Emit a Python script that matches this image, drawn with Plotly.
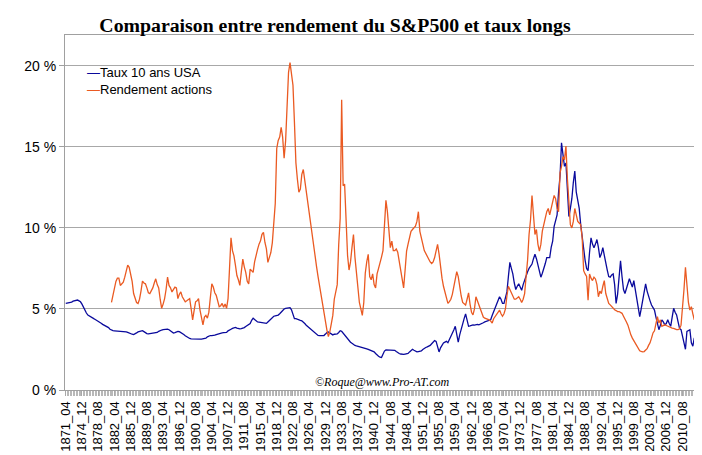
import plotly.graph_objects as go

# ---------------- data (percent), 4-month steps: _04, _08, _12 ----------------
first_year = 1871
last_year = 2013
months = [4, 8, 12]
categories = [f"{y}_{m:02d}" for y in range(first_year, last_year + 1) for m in months]

taux_name = "Taux 10 ans USA"
taux_color = "#0a0a9c"
taux_start = "1871_04"
taux = [
    5.34, 5.35, 5.37,  5.38, 5.42, 5.48,  5.52, 5.56, 5.55,  5.50, 5.44, 5.30,  # 1871-74
    5.10, 4.90, 4.75,  4.62, 4.55, 4.50,  4.45, 4.40, 4.35,  4.30, 4.27, 4.20,  # 1875-78
    4.12, 4.05, 4.00,  3.97, 3.93, 3.85,  3.75, 3.68, 3.66,  3.65, 3.64, 3.63,  # 1879-82
    3.63, 3.62, 3.62,  3.62, 3.62, 3.58,  3.55, 3.50, 3.46,  3.44, 3.42, 3.45,  # 1883-86
    3.52, 3.58, 3.62,  3.65, 3.66, 3.60,  3.52, 3.48, 3.46,  3.47, 3.48, 3.50,  # 1887-90
    3.50, 3.52, 3.55,  3.62, 3.68, 3.70,  3.72, 3.74, 3.76,  3.76, 3.72, 3.65,  # 1891-94
    3.58, 3.52, 3.54,  3.58, 3.62, 3.60,  3.52, 3.45, 3.42,  3.35, 3.28, 3.22,  # 1895-98
    3.18, 3.16, 3.15,  3.15, 3.14, 3.14,  3.14, 3.14, 3.14,  3.15, 3.16, 3.20,  # 1899-1902
    3.28, 3.33, 3.36,  3.36, 3.36, 3.38,  3.42, 3.46, 3.50,  3.52, 3.53, 3.54,  # 1903-06
    3.55, 3.55, 3.65,  3.72, 3.75, 3.80,  3.84, 3.86, 3.82,  3.78, 3.77, 3.78,  # 1907-10
    3.80, 3.85, 3.92,  4.00, 4.03, 4.10,  4.30, 4.43, 4.35,  4.25, 4.20, 4.19,  # 1911-14
    4.18, 4.15, 4.13,  4.12, 4.11, 4.20,  4.30, 4.40, 4.50,  4.55, 4.58, 4.60,  # 1915-18
    4.62, 4.70, 4.82,  4.92, 5.00, 5.04,  5.05, 5.06, 5.08,  4.95, 4.60, 4.40,  # 1919-22
    4.40, 4.38, 4.35,  4.30, 4.27, 4.20,  4.10, 4.00, 3.92,  3.86, 3.80, 3.70,  # 1923-26
    3.60, 3.50, 3.42,  3.37, 3.36, 3.36,  3.36, 3.36, 3.45,  3.55, 3.58, 3.50,  # 1927-30
    3.42, 3.40, 3.44,  3.46, 3.46, 3.55,  3.66, 3.62, 3.50,  3.40, 3.30, 3.20,  # 1931-34
    3.05, 2.95, 2.88,  2.80, 2.75, 2.72,  2.70, 2.68, 2.66,  2.63, 2.61, 2.58,  # 1935-38
    2.54, 2.50, 2.46,  2.43, 2.41, 2.35,  2.25, 2.15, 2.08,  2.02, 2.00, 2.20,  # 1939-42
    2.40, 2.47, 2.47,  2.47, 2.47, 2.47,  2.47, 2.45, 2.38,  2.30, 2.25, 2.22,  # 1943-46
    2.20, 2.20, 2.22,  2.24, 2.26, 2.35,  2.45, 2.51, 2.45,  2.38, 2.35, 2.37,  # 1947-50
    2.40, 2.41, 2.50,  2.58, 2.62, 2.66,  2.70, 2.75, 2.85,  2.95, 3.05, 3.00,  # 1951-54
    2.60, 2.35, 2.60,  2.80, 2.90, 2.95,  3.00, 2.92, 3.10,  3.30, 3.45, 3.70,  # 1955-58
    3.93, 3.50, 2.95,  3.40, 3.80, 4.05,  4.40, 4.69, 4.30,  3.93, 3.95, 4.00,  # 1959-62
    4.02, 4.00, 4.02,  4.05, 4.02, 4.05,  4.10, 4.15, 4.20,  4.23, 4.25, 4.28,  # 1963-66
    4.33, 4.60, 4.85,  5.04, 5.30, 5.55,  5.75, 5.60, 5.34,  5.34, 5.70, 6.05,  # 1967-70
    7.00, 7.87, 7.50,  7.16, 6.60, 6.20,  6.40, 6.55, 6.35,  6.15, 6.50, 6.80,  # 1971-74
    7.06, 7.30, 7.50,  7.65, 7.77, 8.10,  8.37, 8.10, 7.77,  7.40, 6.96, 7.20,  # 1975-78
    7.46, 7.80, 8.17,  8.17, 8.17, 8.80,  9.18, 10.1, 10.4,  10.8, 12.2, 13.2,  # 1979-82
    15.25, 14.6, 13.8, 14.0, 12.5, 10.7,  11.2, 11.8, 12.8,  13.5, 12.2, 11.6,  # 1983-86
    11.2, 10.2, 9.40,  8.57, 8.00, 7.50,  7.36, 8.50, 9.39,  9.00, 8.78, 9.00,  # 1987-90
    9.28, 8.80, 8.17,  8.40, 8.78, 8.30,  7.77, 7.40, 7.00,  6.96, 7.10, 7.16,  # 1991-94
    6.50, 5.34, 5.90,  6.75, 7.97, 7.00,  6.20, 5.95, 6.30,  6.60, 6.86, 6.60,  # 1995-98
    6.35, 6.75, 6.20,  5.75, 5.10, 4.53,  5.00, 5.60, 5.95,  6.55, 6.10, 5.75,  # 1999-2002
    5.50, 5.24, 5.10,  4.93, 4.50, 4.00,  3.72, 4.00, 4.33,  4.20, 4.02, 4.10,  # 2003-06
    4.33, 4.10, 3.93,  4.50, 5.04, 4.80,  4.63, 4.20, 3.80,  3.72, 3.32, 2.90,  # 2007-10
    2.51, 3.62, 3.70,  3.72, 2.91, 2.70,  3.22,                                 # 2011-13
]

rend_name = "Rendement actions"
rend_color = "#ea5a22"
rend_start = "1881_08"
rend = [
    5.40, 5.90,                                                                  # 1881
    6.30, 6.70, 6.90,  6.90, 6.45, 6.55,  6.65, 6.96, 7.30,  7.70, 7.57, 7.20,  # 1882-85
    6.70, 5.95, 5.60,  5.40, 5.34, 5.60,  6.10, 6.72, 6.60,  6.55, 6.30, 6.00,  # 1886-89
    5.95, 6.10, 6.30,  6.60, 6.86, 6.50,  6.30, 5.60, 5.04,  5.30, 5.64, 6.20,  # 1890-93
    6.96, 6.45, 6.30,  6.05, 6.20, 6.35,  6.30, 5.64, 5.90,  6.05, 5.75, 5.60,  # 1894-97
    5.44, 5.50, 5.60,  5.64, 5.00, 4.33,  4.90, 5.44, 5.50,  5.64, 4.93, 4.50,  # 1898-1901
    4.02, 4.50, 4.60,  4.43, 4.80, 5.70,  6.55, 6.35, 6.00,  5.84, 5.50, 5.14,  # 1902-05
    5.20, 5.34, 5.10,  5.30, 5.04, 5.64,  7.50, 9.39, 8.60,  8.27, 7.70, 7.06,  # 1906-09
    6.80, 6.45, 7.30,  8.07, 7.60, 7.26,  6.70, 6.55, 7.46,  7.35, 7.26, 7.90,  # 1910-13
    8.40, 8.68, 9.00,  9.20, 9.60, 9.73,  9.10, 8.70, 7.87,  8.20, 8.48, 9.08,  # 1914-17
    10.3, 11.5, 14.9,  15.4, 15.6, 16.2,  15.6, 14.3, 15.35, 18.0, 19.6, 20.2,  # 1918-21
    19.4, 18.8, 16.5,  14.0, 13.0, 12.2,  12.4, 13.3, 13.6,  12.9, 12.4, 11.8,  # 1922-25
    11.0, 10.3, 9.60,  8.70, 8.20, 7.60,  7.00, 6.40, 6.00,  5.40, 4.84, 4.20,  # 1926-29
    3.70, 3.30, 3.60,  4.10, 4.60, 5.60,  6.10, 6.50, 8.98,  10.6, 17.9, 12.6,  # 1930-33
    12.7, 9.80, 8.30,  7.40, 7.90, 8.80,  9.59, 8.20, 7.20,  5.90, 5.40, 5.00,  # 1934-37
    4.60, 5.40, 7.20,  7.90, 8.37, 7.00,  6.80, 7.16, 6.50,  6.30, 7.16, 7.50,  # 1938-41
    7.80, 8.20, 8.60,  9.99, 11.7, 11.0,  10.0, 8.78, 9.18,  8.60, 8.60, 8.70,  # 1942-45
    8.50, 7.90, 7.30,  6.80, 6.30, 7.40,  8.57, 9.00, 9.40,  9.79, 9.90, 9.99,  # 1946-49
    10.1, 10.4, 11.0,  9.79, 9.30, 9.00,  8.60, 8.40, 8.30,  8.10, 7.90, 7.80,  # 1950-53
    7.90, 8.17, 8.60,  8.98, 8.40, 7.50,  6.90, 6.40, 6.00,  5.60, 5.34, 5.45,  # 1954-57
    5.60, 5.90, 6.40,  7.00, 7.30, 7.00,  6.30, 5.80, 5.40,  5.30, 5.24, 5.60,  # 1958-61
    5.99, 5.30, 4.80,  4.63, 5.00, 5.75,  5.50, 5.14, 4.90,  4.63, 4.50, 4.43,  # 1962-65
    4.40, 4.38, 4.33,  4.25, 4.13, 4.40,  4.53, 4.63, 4.80,  4.93, 4.70, 4.55,  # 1966-69
    4.70, 5.00, 5.80,  6.40, 6.20, 6.00,  5.90, 5.60, 5.60,  5.70, 5.75, 5.60,  # 1970-73
    5.40, 5.60, 5.95,  7.00, 8.00, 9.59,  10.5, 12.0, 11.0,  9.59, 9.90, 9.00,  # 1974-77
    8.57, 8.98, 9.80,  10.3, 10.6, 11.0,  11.2, 10.8, 11.2,  11.6, 12.0, 11.8,  # 1978-81
    11.2, 11.0, 13.4,  13.8, 14.4, 14.2,  15.05, 13.0, 11.8, 10.2, 10.0, 10.4,  # 1982-85
    11.2, 10.8, 10.4,  10.3, 10.2, 9.39,  7.36, 7.16, 7.00,  5.54, 7.16, 6.90,  # 1986-89
    6.75, 6.96, 6.85,  6.50, 5.75, 6.10,  5.95, 6.40, 6.75,  5.95, 5.60, 5.34,  # 1990-93
    5.25, 5.14, 5.05,  4.95, 4.90, 4.84,  4.84, 4.78, 4.73,  4.55, 4.40, 4.20,  # 1994-97
    4.00, 3.60, 3.40,  3.20, 3.05, 2.85,  2.71, 2.55, 2.42,  2.38, 2.35, 2.37,  # 1998-2001
    2.45, 2.55, 2.75,  2.91, 3.20, 3.52,  3.65, 4.10, 4.53,  4.13, 4.33, 3.93,  # 2002-05
    4.00, 4.02, 3.98,  3.93, 3.90, 3.85,  3.82, 3.80, 3.75,  3.72, 3.72, 3.78,  # 2006-09
    4.00, 5.00, 6.20,  7.57, 6.55, 5.40,  4.93, 5.14, 4.70,  4.33,              # 2010-13
]

title_text = "Comparaison entre rendement du S&P500 et taux longs"
credit_text = "©Roque@www.Pro-AT.com"
label_every = 11  # one label every 44 months
y_max = 21.9
y_step = 5


def align(start, values):
    i0 = categories.index(start)
    out = [None] * len(categories)
    for i, v in enumerate(values):
        out[i0 + i] = v
    return out


x_idx = list(range(len(categories)))
tick_idx = x_idx[::label_every]
tick_txt = [categories[i] for i in tick_idx]

series = [(taux_name, taux_color, taux_start, taux),
          (rend_name, rend_color, rend_start, rend)]

fig = go.Figure()
for name, color, start, vals in series:
    fig.add_trace(go.Scatter(x=x_idx, y=align(start, vals), name=name,
                             mode="lines", line=dict(color=color, width=1.3),
                             connectgaps=False, showlegend=False))

# Excel-style legend: short coloured dash followed by the series name
legend_notes = []
for row, (name, color, _, _) in enumerate(series):
    legend_notes.append(dict(
        text=f"<span style='color:{color}'>—</span>{name}",
        xref="paper", yref="paper", x=0.032, y=0.893 - row * 0.047,
        xanchor="left", yanchor="middle", showarrow=False,
        font=dict(family="Liberation Sans, Arial, sans-serif", size=13, color="black")))

fig.update_layout(
    width=702, height=455, autosize=False,
    margin=dict(l=57, r=11, t=27, b=67),
    paper_bgcolor="white", plot_bgcolor="white",
    font=dict(family="Liberation Sans, Arial, sans-serif", color="black"),
    showlegend=False,
    title=dict(text=f"<b>{title_text}</b>", x=327 / 702, xref="container",
               xanchor="center", y=0.962, yanchor="middle", yref="container",
               font=dict(family="Liberation Serif, Times New Roman, serif", size=19.8,
                         color="black")),
    annotations=legend_notes + [
        dict(text=f"<i>{credit_text}</i>", xref="paper", yref="paper",
             x=0.5, y=0.0, xanchor="center", yanchor="bottom",
             showarrow=False, yshift=-1,
             font=dict(family="Liberation Serif, Times New Roman, serif",
                       size=12, color="black"))],
)

fig.update_xaxes(
    range=[-0.5, len(categories) - 0.5],
    tickmode="array", tickvals=tick_idx, ticktext=tick_txt,
    tickangle=-90, tickfont=dict(size=13),
    ticks="outside", ticklen=5, tickcolor="#a8a8a8",
    minor=dict(ticks="outside", ticklen=5, tickcolor="#b8b8b8", dtick=1, tick0=0),
    showgrid=False, zeroline=False,
    showline=True, linecolor="#a0a0a0", linewidth=1, mirror=True,
)
fig.update_yaxes(
    range=[0, y_max], tick0=0, dtick=y_step, ticksuffix=" %",
    tickfont=dict(size=14),
    ticks="outside", ticklen=5, tickcolor="#a0a0a0",
    showgrid=True, gridcolor="#a8a8a8", gridwidth=1,
    zeroline=False,
    showline=True, linecolor="#a0a0a0", linewidth=1, mirror=True,
)

fig.write_html("out.html")
